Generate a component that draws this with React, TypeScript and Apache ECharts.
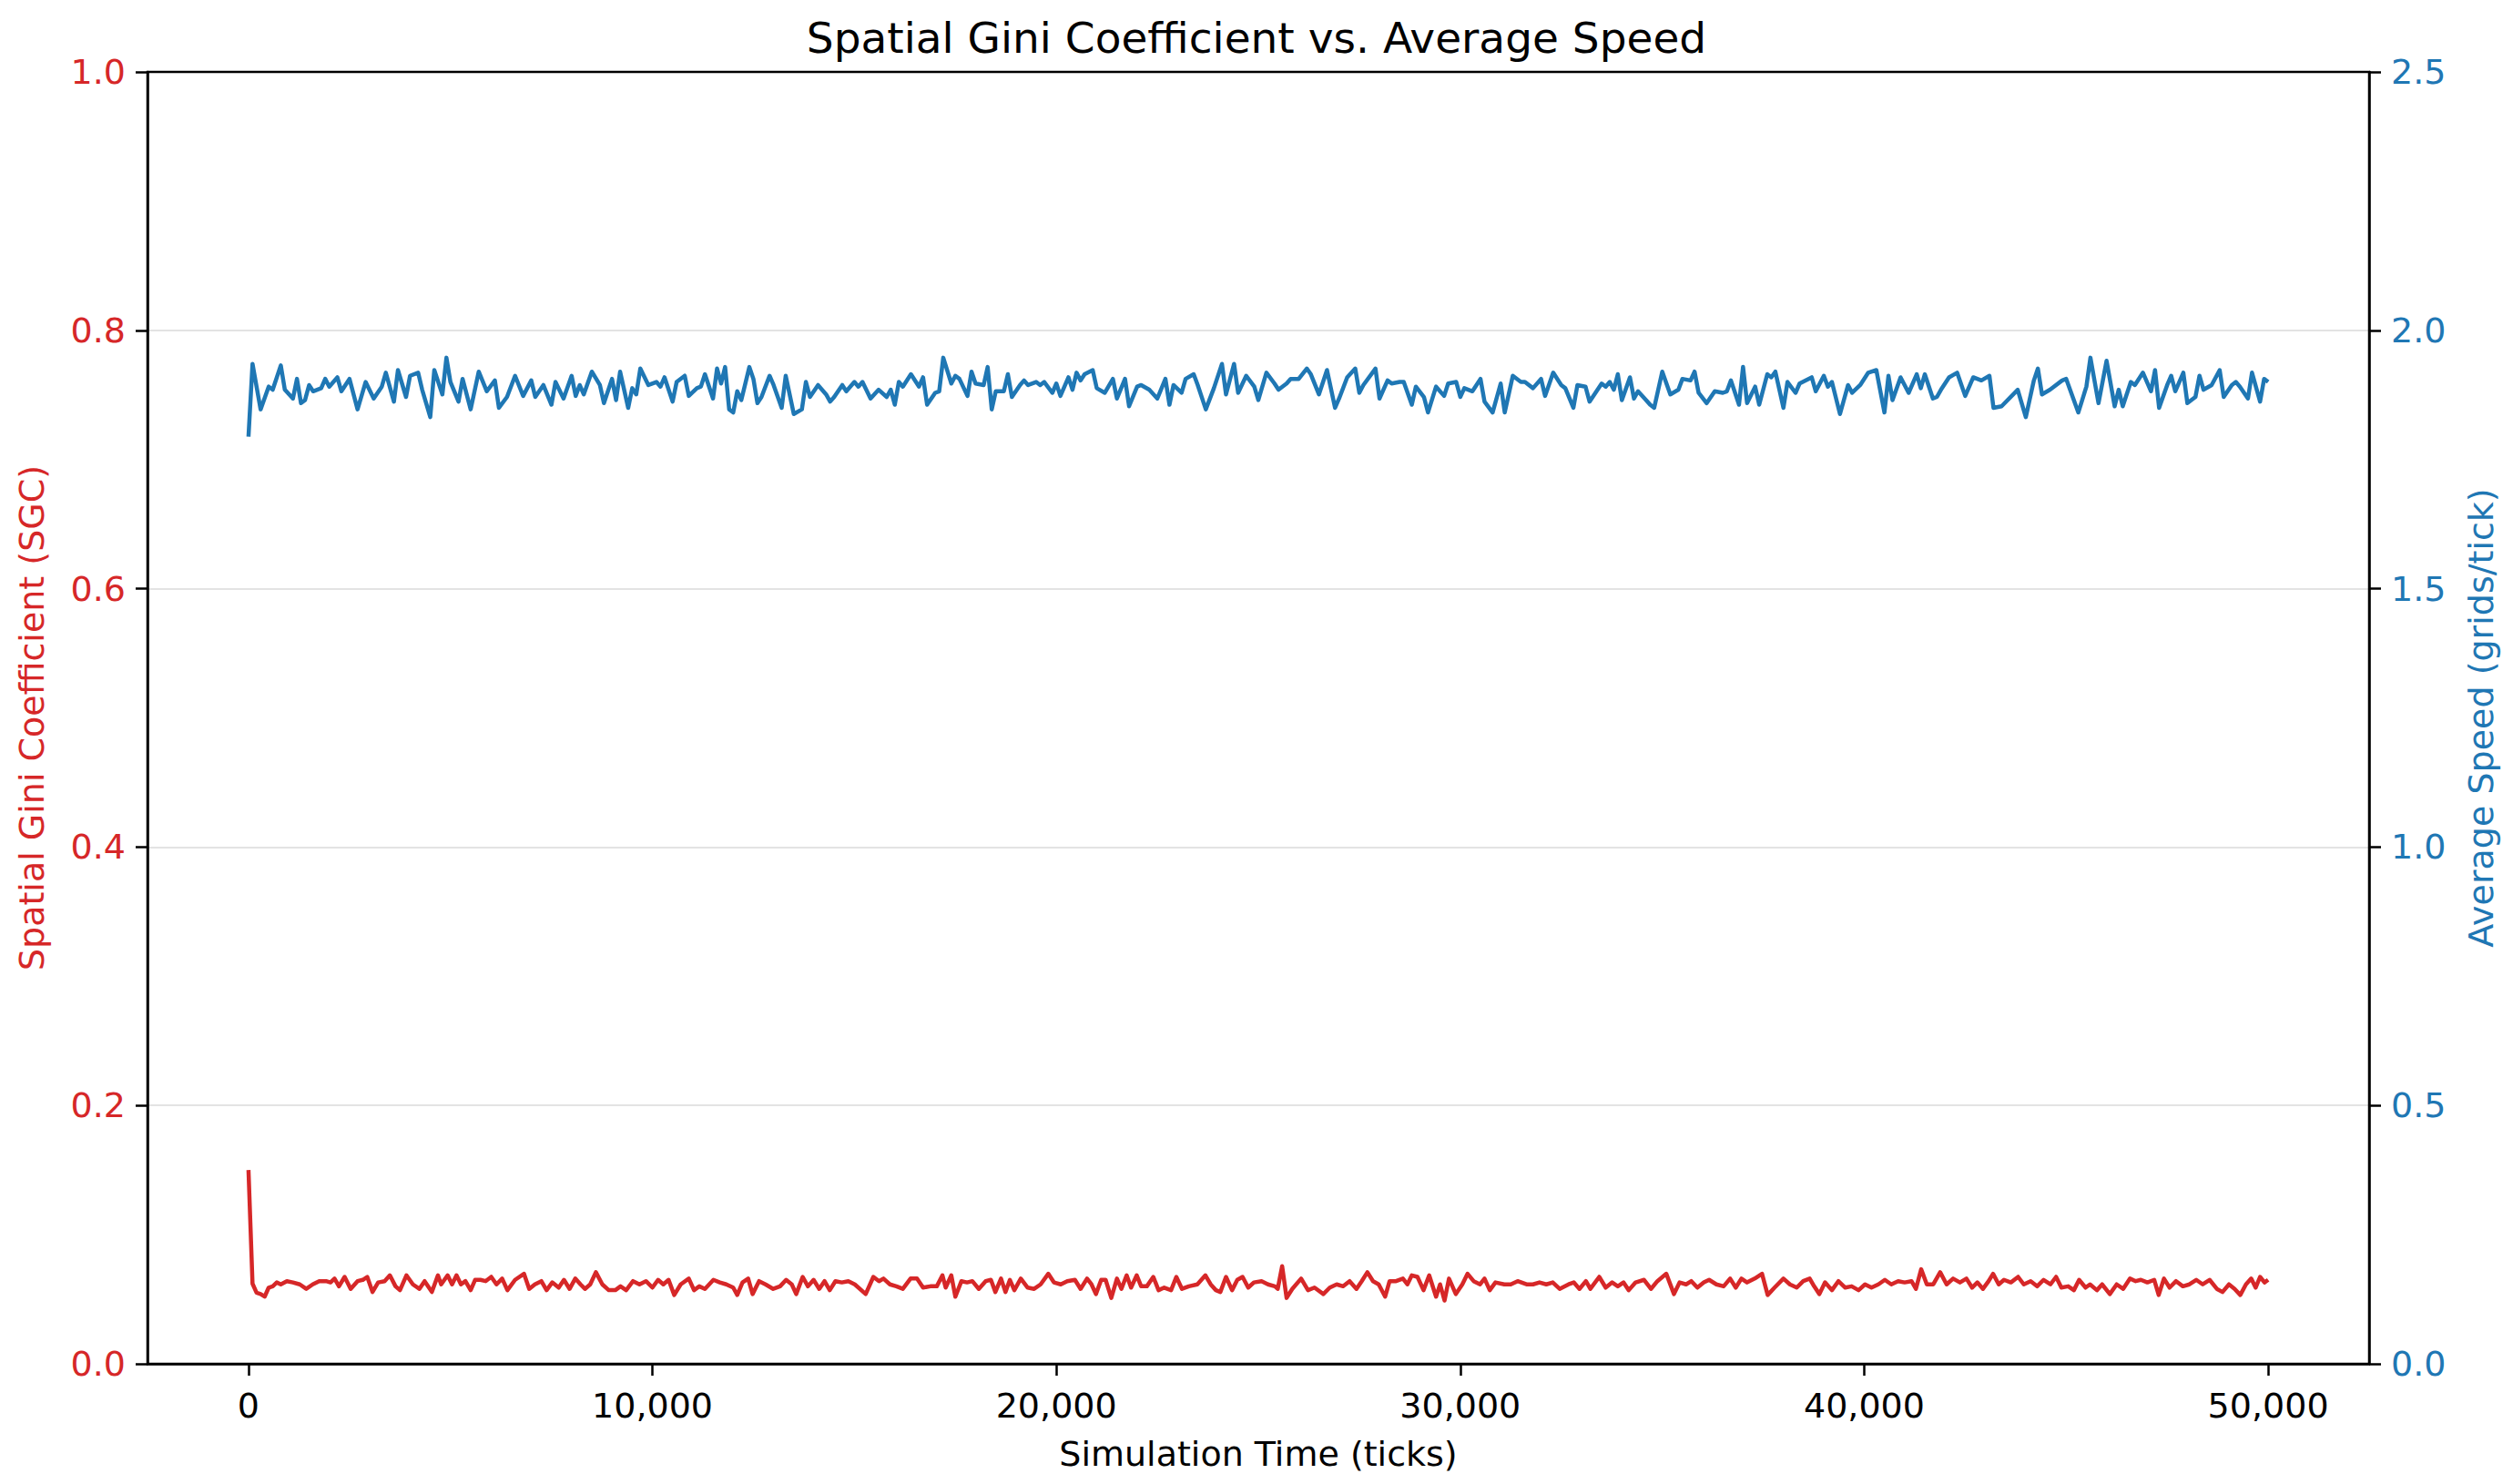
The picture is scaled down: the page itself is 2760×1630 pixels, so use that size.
import React, { useEffect, useRef } from "react";
import * as echarts from "echarts";

const chartTitle = "Spatial Gini Coefficient vs. Average Speed";
const xAxisName = "Simulation Time (ticks)";
const leftAxisName = "Spatial Gini Coefficient (SGC)";
const rightAxisName = "Average Speed (grids/tick)";
const xTickValues = [0, 10000, 20000, 30000, 40000, 50000];

const speedTicks = [
  0, 100, 300, 500, 600, 800, 900, 1100, 1200, 1300, 1400, 1500, 1600, 1800, 1900, 2000, 2200, 2300, 2500, 2700,
  2900, 3100, 3300, 3400, 3600, 3700, 3900, 4000, 4200, 4300, 4500, 4600, 4800, 4900, 5000, 5200, 5300, 5500, 5700, 5900,
  6100, 6200, 6400, 6600, 6800, 7000, 7100, 7300, 7500, 7600, 7800, 8000, 8100, 8200, 8300, 8500, 8700, 8800, 9000, 9100,
  9200, 9400, 9500, 9600, 9700, 9900, 10100, 10200, 10300, 10500, 10600, 10800, 10900, 11100, 11200, 11300, 11500, 11600, 11700, 11800,
  11900, 12000, 12100, 12200, 12400, 12500, 12600, 12700, 12900, 13000, 13200, 13300, 13500, 13700, 13800, 13900, 14100, 14300, 14400, 14500,
  14700, 14800, 15000, 15100, 15200, 15400, 15600, 15800, 15900, 16000, 16100, 16200, 16400, 16600,
  16700, 16800, 17000, 17100, 17200, 17400, 17500, 17600, 17800, 17900, 18000, 18200, 18300, 18400, 18500, 18700, 18800, 18900, 19100, 19200,
  19300, 19500, 19600, 19700, 19900, 20000, 20100, 20300, 20400, 20500, 20600, 20700, 20900, 21000, 21200, 21400, 21500, 21700, 21800, 22000,
  22100, 22300, 22500, 22700, 22800, 22900, 23100, 23200, 23400, 23500, 23700, 23900, 24100, 24200, 24400, 24500, 24700, 24900, 25000, 25200,
  25400, 25500, 25700, 25800, 26000, 26200, 26300, 26500, 26700, 26900, 27000, 27200, 27400, 27500, 27600, 27900, 28000, 28200, 28300, 28500,
  28600, 28800, 28900, 29100, 29200, 29400, 29600, 29700, 29900, 30000, 30100, 30300, 30500, 30600, 30800, 31000, 31100, 31300, 31500, 31600,
  31800, 32000, 32100, 32300, 32500, 32600, 32800, 32900, 33100, 33200, 33500,
  33600, 33700, 33800, 33900, 34000, 34200, 34300, 34400, 34600, 34700, 34800, 35000, 35200, 35400, 35500, 35700, 35800, 35900, 36100, 36300,
  36500, 36600, 36700, 36900, 37000, 37100, 37300, 37400, 37600, 37700, 37800, 38000, 38100, 38300, 38400, 38700, 38800, 39000, 39100, 39200,
  39400, 39600, 39700, 39900, 40100, 40300, 40500, 40600, 40700, 40900, 41100, 41300, 41400, 41500, 41700, 41800, 41900, 42100, 42300, 42500,
  42700, 42900, 43100, 43200, 43400, 43800, 44000, 44200, 44300, 44400, 44600, 44900, 45000, 45300, 45500, 45600, 45800, 46000, 46200, 46300,
  46400, 46600, 46700, 46900, 47100, 47200, 47300, 47500, 47600, 47700, 47900, 48000, 48200, 48300, 48400, 48600, 48800, 48900, 49100, 49200,
  49300, 49500, 49600, 49800, 49900, 50000,
];

const speedValues = [
  1.794, 1.935, 1.847, 1.891, 1.885, 1.932, 1.885, 1.868, 1.906, 1.859, 1.865, 1.894, 1.882, 1.888, 1.906, 1.891, 1.909, 1.882, 1.906, 1.847,
  1.9, 1.868, 1.891, 1.918, 1.862, 1.923, 1.871, 1.912, 1.918, 1.885, 1.832, 1.923, 1.876, 1.947, 1.9, 1.862, 1.906, 1.847, 1.92, 1.882,
  1.903, 1.85, 1.871, 1.912, 1.873, 1.903, 1.871, 1.894, 1.856, 1.9, 1.868, 1.912, 1.873, 1.894, 1.876, 1.92, 1.894, 1.859, 1.906, 1.865,
  1.92, 1.85, 1.888, 1.876, 1.926, 1.894, 1.9, 1.891, 1.909, 1.862, 1.9, 1.912, 1.873, 1.888, 1.891, 1.915, 1.868, 1.926, 1.897, 1.929,
  1.847, 1.841, 1.882, 1.865, 1.929, 1.906, 1.859, 1.871, 1.912, 1.894, 1.85, 1.912, 1.838, 1.847, 1.9, 1.871, 1.894, 1.876, 1.862, 1.871,
  1.894, 1.882, 1.9, 1.891, 1.9, 1.868, 1.885, 1.871, 1.885, 1.856, 1.9, 1.891, 1.915, 1.891,
  1.909, 1.856, 1.879, 1.882, 1.947, 1.897, 1.912, 1.906, 1.873, 1.92, 1.897, 1.894, 1.929, 1.847, 1.882, 1.882, 1.915, 1.871, 1.894, 1.903,
  1.894, 1.9, 1.894, 1.9, 1.879, 1.897, 1.873, 1.909, 1.885, 1.918, 1.903, 1.915, 1.923, 1.888, 1.879, 1.906, 1.868, 1.906, 1.853, 1.891,
  1.894, 1.885, 1.868, 1.906, 1.856, 1.894, 1.879, 1.906, 1.915, 1.894, 1.847, 1.888, 1.935, 1.876, 1.935, 1.879, 1.912, 1.891, 1.865, 1.918,
  1.897, 1.885, 1.897, 1.906, 1.906, 1.926, 1.915, 1.876, 1.923, 1.85, 1.868, 1.909, 1.926, 1.879, 1.894, 1.926, 1.868, 1.903, 1.897, 1.9,
  1.9, 1.856, 1.891, 1.871, 1.841, 1.891, 1.873, 1.897, 1.9, 1.871, 1.888, 1.882, 1.906, 1.862, 1.841, 1.897, 1.841, 1.912, 1.9, 1.9,
  1.888, 1.906, 1.873, 1.918, 1.894, 1.888, 1.85, 1.894, 1.891, 1.862, 1.897,
  1.891, 1.9, 1.885, 1.915, 1.865, 1.909, 1.868, 1.882, 1.865, 1.856, 1.85, 1.92, 1.876, 1.885, 1.906, 1.903, 1.92, 1.879, 1.859, 1.882,
  1.879, 1.882, 1.903, 1.856, 1.929, 1.859, 1.891, 1.856, 1.915, 1.909, 1.92, 1.85, 1.9, 1.879, 1.897, 1.909, 1.882, 1.912, 1.891, 1.9,
  1.838, 1.894, 1.879, 1.894, 1.918, 1.923, 1.841, 1.912, 1.865, 1.909, 1.879, 1.915, 1.888, 1.915, 1.868, 1.871, 1.885, 1.909, 1.918, 1.873,
  1.909, 1.903, 1.912, 1.85, 1.853, 1.885, 1.832, 1.903, 1.926, 1.876, 1.885, 1.903, 1.906, 1.841, 1.891, 1.947, 1.859, 1.941, 1.853, 1.885,
  1.853, 1.9, 1.894, 1.918, 1.882, 1.923, 1.85, 1.894, 1.912, 1.882, 1.918, 1.859, 1.871, 1.912, 1.885, 1.894, 1.923, 1.871, 1.894, 1.9,
  1.891, 1.868, 1.918, 1.862, 1.906, 1.9,
];

const sgcTicks = [
  0, 100, 200, 300, 400, 500, 600, 700, 800, 950, 1100, 1270, 1430, 1590, 1750, 1920, 2030, 2130, 2240, 2380,
  2530, 2700, 2830, 2940, 3070, 3210, 3370, 3500, 3640, 3750, 3910, 4070, 4230, 4360, 4540, 4690, 4770, 4930, 5040, 5150,
  5260, 5370, 5500, 5610, 5740, 5870, 6010, 6140, 6280, 6410, 6600, 6820, 6950, 7090, 7250, 7380, 7520, 7680, 7810, 7950,
  8090, 8220, 8330, 8460, 8600, 8760, 8920, 9080, 9210, 9350, 9520, 9680, 9840, 10000, 10140, 10270, 10400, 10540, 10700, 10900,
  11030, 11160, 11300, 11510, 11670, 11830, 12000, 12100, 12230, 12370, 12480, 12640, 12800, 12990, 13160, 13310, 13450, 13560, 13720, 13850,
  13990, 14130, 14260, 14390, 14530, 14690, 14850, 15010, 15280, 15470, 15610, 15720, 15880, 16040, 16200, 16390,
  16550, 16700, 16880, 17040, 17180, 17260, 17400, 17500, 17650, 17790, 17920, 18080, 18250, 18380, 18490, 18630, 18740, 18850, 18960, 19120,
  19290, 19450, 19610, 19800, 19940, 20110, 20270, 20460, 20600, 20760, 20870, 20980, 21110, 21220, 21360, 21500, 21610, 21740, 21850, 21990,
  22100, 22240, 22400, 22530, 22670, 22840, 22970, 23110, 23280, 23490, 23690, 23820, 23950, 24060, 24200, 24350, 24480, 24610, 24750, 24890,
  25080, 25240, 25410, 25480, 25590, 25700, 25840, 26060, 26230, 26390, 26610, 26770, 26940, 27100, 27260, 27430, 27560, 27700, 27840, 27980,
  28140, 28250, 28410, 28580, 28690, 28800, 28940, 29090, 29230, 29400, 29500, 29610, 29720, 29890, 30050, 30180, 30330, 30490, 30600, 30730,
  30870, 31090, 31250, 31420, 31640, 31800, 31960, 32130, 32290, 32460, 32680, 32810, 32950, 33110, 33220, 33440,
  33600, 33760, 33900, 34040, 34170, 34340, 34550, 34720, 34880, 35100, 35290, 35430, 35590, 35720, 35870, 36030, 36160, 36340, 36520, 36680,
  36820, 36960, 37100, 37290, 37470, 37610, 37780, 38000, 38160, 38330, 38490, 38650, 38760, 38890, 39030, 39200, 39360, 39530, 39690, 39860,
  40020, 40180, 40350, 40510, 40670, 40840, 41000, 41170, 41280, 41410, 41550, 41710, 41880, 42040, 42200, 42370, 42530, 42670, 42800, 42940,
  43080, 43190, 43330, 43460, 43630, 43810, 43950, 44120, 44280, 44440, 44610, 44750, 44880, 45050, 45190, 45320, 45480, 45590, 45760, 45890,
  46080, 46250, 46410, 46580, 46720, 46850, 47010, 47180, 47290, 47420, 47560, 47720, 47890, 48050, 48220, 48380, 48550, 48730, 48870, 49030,
  49170, 49310, 49450, 49580, 49690, 49800, 49910, 50000,
];

const sgcValues = [
  0.15, 0.062, 0.055, 0.054, 0.052, 0.059, 0.06, 0.063, 0.0615, 0.064, 0.063, 0.0615, 0.058, 0.0615, 0.064, 0.064, 0.063, 0.066, 0.06, 0.0673,
  0.058, 0.064, 0.065, 0.0673, 0.0556, 0.063, 0.064, 0.0685, 0.06, 0.057, 0.0685, 0.0615, 0.058, 0.064, 0.0556, 0.0685, 0.0615, 0.0685, 0.0615, 0.0685,
  0.0615, 0.064, 0.057, 0.065, 0.065, 0.064, 0.0673, 0.0615, 0.066, 0.057, 0.065, 0.0697, 0.058, 0.0615, 0.064, 0.057, 0.063, 0.059, 0.065, 0.058,
  0.066, 0.0615, 0.058, 0.0615, 0.0709, 0.0615, 0.057, 0.057, 0.06, 0.057, 0.064, 0.0615, 0.064, 0.059, 0.065, 0.0615, 0.065, 0.0533, 0.0615, 0.066,
  0.057, 0.06, 0.058, 0.065, 0.063, 0.0615, 0.059, 0.0533, 0.063, 0.066, 0.054, 0.064, 0.0615, 0.058, 0.06, 0.065, 0.0615, 0.054, 0.0673, 0.06,
  0.065, 0.058, 0.064, 0.057, 0.064, 0.063, 0.064, 0.0615, 0.054, 0.0673, 0.064, 0.066, 0.0615, 0.06, 0.058, 0.066,
  0.066, 0.059, 0.06, 0.06, 0.0685, 0.059, 0.0685, 0.052, 0.064, 0.063, 0.064, 0.058, 0.064, 0.065, 0.0556, 0.066, 0.0556, 0.065, 0.057, 0.066,
  0.059, 0.058, 0.0615, 0.0697, 0.063, 0.0615, 0.064, 0.065, 0.058, 0.066, 0.0615, 0.054, 0.065, 0.065, 0.051, 0.066, 0.058, 0.0685, 0.059, 0.0685,
  0.06, 0.06, 0.0673, 0.057, 0.059, 0.057, 0.0673, 0.058, 0.06, 0.0615, 0.0685, 0.0615, 0.057, 0.0556, 0.0673, 0.057, 0.065, 0.0673, 0.059, 0.063,
  0.064, 0.0615, 0.06, 0.058, 0.0756, 0.051, 0.058, 0.066, 0.057, 0.059, 0.054, 0.059, 0.0615, 0.06, 0.064, 0.058, 0.064, 0.0709, 0.064, 0.0615,
  0.052, 0.064, 0.064, 0.066, 0.0615, 0.0685, 0.0673, 0.057, 0.0685, 0.052, 0.0615, 0.049, 0.066, 0.054, 0.0615, 0.0697, 0.064, 0.0615, 0.066, 0.057,
  0.063, 0.0615, 0.0615, 0.064, 0.0615, 0.0615, 0.063, 0.0615, 0.063, 0.058, 0.0615, 0.063, 0.058, 0.064, 0.058, 0.0673,
  0.059, 0.063, 0.06, 0.063, 0.057, 0.063, 0.065, 0.058, 0.064, 0.0697, 0.054, 0.063, 0.0615, 0.064, 0.059, 0.063, 0.065, 0.0615, 0.06, 0.066,
  0.059, 0.066, 0.063, 0.066, 0.0697, 0.0533, 0.059, 0.066, 0.0615, 0.059, 0.064, 0.066, 0.06, 0.054, 0.063, 0.057, 0.064, 0.059, 0.06, 0.057,
  0.0615, 0.059, 0.0615, 0.065, 0.0615, 0.064, 0.063, 0.064, 0.058, 0.0732, 0.0615, 0.0615, 0.0709, 0.0615, 0.066, 0.063, 0.066, 0.059, 0.063, 0.058,
  0.064, 0.0697, 0.0615, 0.065, 0.063, 0.0673, 0.0615, 0.064, 0.06, 0.065, 0.0615, 0.0673, 0.059, 0.06, 0.057, 0.065, 0.059, 0.0615, 0.057, 0.0615,
  0.054, 0.0615, 0.058, 0.066, 0.064, 0.065, 0.063, 0.065, 0.0533, 0.066, 0.059, 0.064, 0.06, 0.0615, 0.065, 0.0615, 0.065, 0.058, 0.0556, 0.0615,
  0.058, 0.0533, 0.0615, 0.066, 0.059, 0.0673, 0.063, 0.065,
];

const RED = "#d62728";
const BLUE = "#1f77b4";
const FONT = "DejaVu Sans";

export default function App() {
  const ref = useRef<HTMLDivElement>(null);

  useEffect(() => {
    document.body.style.margin = "0";
    if (!ref.current) return;
    const chart = echarts.init(ref.current, undefined, { renderer: "svg" });

    const speedData = speedTicks.map((t, i) => [t, speedValues[i]]);
    const sgcData = sgcTicks.map((t, i) => [t, sgcValues[i]]);

    const tickStyle = { show: true, inside: false, length: 13, lineStyle: { color: "#000", width: 2.5 } };

    chart.setOption({
      animation: false,
      backgroundColor: "#fff",
      textStyle: { fontFamily: FONT },
      title: {
        text: chartTitle,
        left: "center",
        top: 13,
        textStyle: { fontFamily: FONT, fontSize: 47, fontWeight: "normal", color: "#000" },
      },
      grid: {
        left: 162,
        right: 158,
        top: 79,
        bottom: 132,
        containLabel: false,
        show: true,
        borderColor: "#000",
        borderWidth: 2.5,
        backgroundColor: "transparent",
        z: 10,
      },
      xAxis: {
        type: "value",
        min: -2500,
        max: 52500,
        name: xAxisName,
        nameLocation: "middle",
        nameGap: 80,
        nameTextStyle: { fontFamily: FONT, fontSize: 38, color: "#000" },
        axisLine: { show: true, onZero: false, lineStyle: { color: "#000", width: 2.5 } },
        axisTick: { ...tickStyle, customValues: xTickValues },
        axisLabel: {
          customValues: xTickValues,
          margin: 27,
          fontFamily: FONT,
          fontSize: 38,
          color: "#000",
          formatter: (v: number) => v.toLocaleString("en-US"),
        },
        splitLine: { show: false },
      },
      yAxis: [
        {
          type: "value",
          position: "left",
          min: 0,
          max: 1,
          interval: 0.2,
          name: leftAxisName,
          nameLocation: "middle",
          nameGap: 108,
          nameTextStyle: { fontFamily: FONT, fontSize: 38, color: RED },
          axisLine: { show: true, onZero: false, lineStyle: { color: "#000", width: 2.5 } },
          axisTick: tickStyle,
          axisLabel: {
            margin: 24,
            fontFamily: FONT,
            fontSize: 38,
            color: RED,
            formatter: (v: number) => v.toFixed(1),
          },
          splitLine: { show: true, showMinLine: false, showMaxLine: false, lineStyle: { color: "#e3e3e3", width: 2 } },
        },
        {
          type: "value",
          position: "right",
          min: 0,
          max: 2.5,
          interval: 0.5,
          name: rightAxisName,
          nameLocation: "middle",
          nameGap: 104,
          nameTextStyle: { fontFamily: FONT, fontSize: 38, color: BLUE },
          axisLine: { show: true, onZero: false, lineStyle: { color: "#000", width: 2.5 } },
          axisTick: tickStyle,
          axisLabel: {
            margin: 24,
            fontFamily: FONT,
            fontSize: 38,
            color: BLUE,
            formatter: (v: number) => v.toFixed(1),
          },
          splitLine: { show: false },
        },
      ],
      series: [
        {
          name: "SGC",
          type: "line",
          yAxisIndex: 0,
          data: sgcData,
          showSymbol: false,
          symbol: "none",
          lineStyle: { color: RED, width: 4.5, join: "round" },
          itemStyle: { color: RED },
        },
        {
          name: "Speed",
          type: "line",
          yAxisIndex: 1,
          data: speedData,
          showSymbol: false,
          symbol: "none",
          lineStyle: { color: BLUE, width: 4.5, join: "round" },
          itemStyle: { color: BLUE },
        },
      ],
    });

    return () => chart.dispose();
  }, []);

  return (
    <div
      ref={ref}
      style={{ position: "absolute", left: 0, top: 0, width: 2760, height: 1630, background: "#fff" }}
    />
  );
}
